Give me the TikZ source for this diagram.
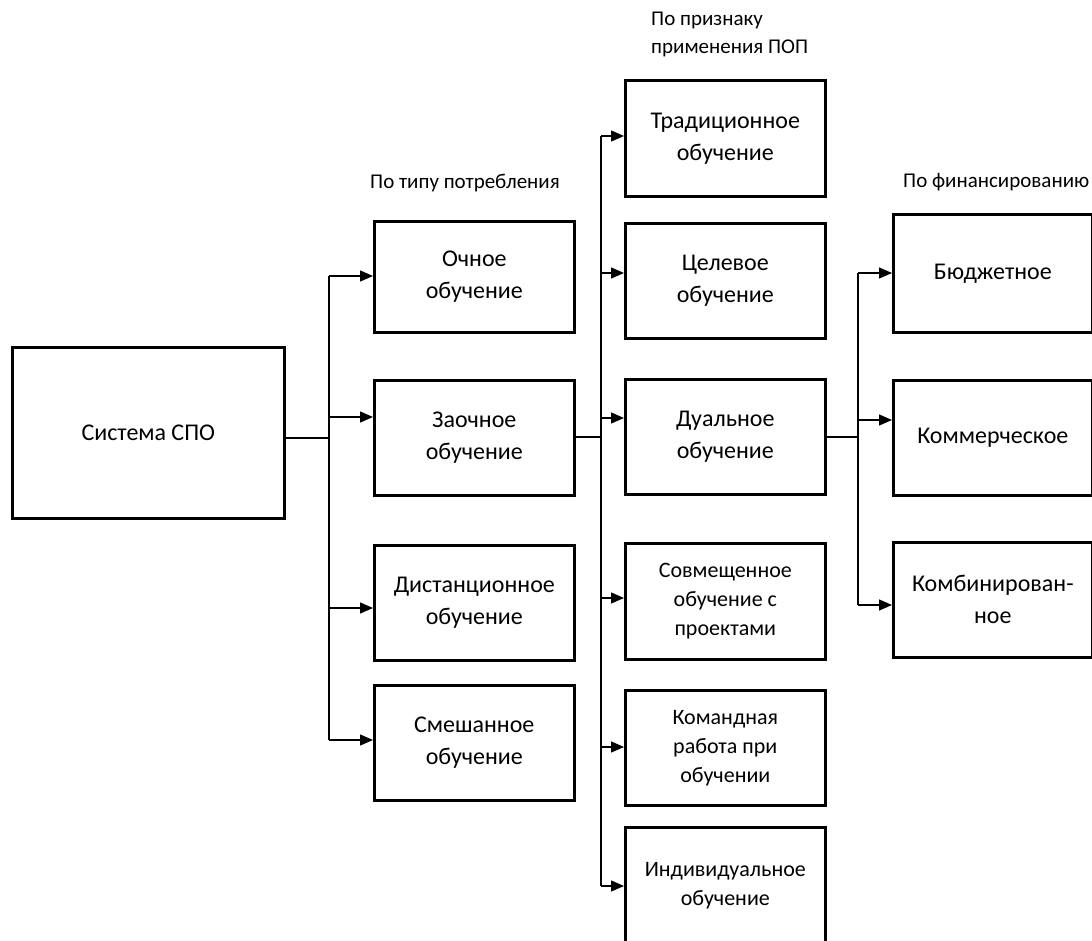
\documentclass[tikz,border=0pt]{standalone}
\usepackage{fontspec}
\setmainfont{Carlito}
\usetikzlibrary{arrows.meta}
\begin{document}
\begin{tikzpicture}[x=1pt,y=-1pt,
  box/.style={draw, line width=2.6pt, anchor=north west, align=center, inner sep=0pt,
    minimum width=200pt, font=\fontsize{24}{32}\selectfont},
  smallbox/.style={box, font=\fontsize{22}{29}\selectfont},
  lbl/.style={anchor=west, align=left, inner sep=0pt, font=\fontsize{21}{28}\selectfont},
  conn/.style={line width=1.3pt},
  arr/.style={line width=1.3pt, -{Triangle[length=13pt,width=11pt]}}]
\clip (0,0) rectangle (1092,941);
\fill[white] (0,0) rectangle (1092,941);

% root
\node[box, minimum width=272pt, minimum height=171pt] (sys) at (11,346) {Система СПО};

% column 1
\node[lbl] (l1) at (370,183) {По типу потребления};
\node[box, minimum height=111pt] (c11) at (373,220) {Очное\\обучение};
\node[box, minimum height=115pt] (c12) at (373,379) {Заочное\\обучение};
\node[box, minimum height=115pt] (c13) at (373,544) {Дистанционное\\обучение};
\node[box, minimum height=115pt] (c14) at (373,684) {Смешанное\\обучение};

% column 2
\node[lbl] (l2) at (651,34) {По признаку\\применения ПОП};
\node[box, minimum height=116pt] (c21) at (624,79) {Традиционное\\обучение};
\node[box, minimum height=115pt] (c22) at (624,222) {Целевое\\обучение};
\node[box, minimum height=115pt] (c23) at (624,378) {Дуальное\\обучение};
\node[smallbox, minimum height=116pt] (c24) at (624,542) {Совмещенное\\обучение с\\проектами};
\node[smallbox, minimum height=115pt] (c25) at (624,689) {Командная\\работа при\\обучении};
\node[smallbox, minimum height=116pt] (c26) at (624,826) {Индивидуальное\\обучение};

% column 3
\node[lbl] (l3) at (903,182) {По финансированию};
\node[box, minimum width=199pt, minimum height=118pt] (c31) at (892,213) {Бюджетное};
\node[box, minimum width=199pt, minimum height=115pt] (c32) at (892,379) {Коммерческое};
\node[box, minimum width=199pt, minimum height=115pt] (c33) at (892,541) {Комбинирован-\\ное};

% junctions
\coordinate (j1) at (329,438);
\coordinate (j1t) at (329,276);
\coordinate (j1b) at (329,740);
\coordinate (j2) at (601,437);
\coordinate (j2t) at (601,136);
\coordinate (j2b) at (601,886);
\coordinate (j3) at (858,437);
\coordinate (j3t) at (858,273);
\coordinate (j3b) at (858,605);

\draw[conn] (sys.east |- j1) -- (j1);
\draw[conn] (j1t) -- (j1b);
\draw[arr] (j1t) -- (c11.west |- j1t);
\draw[arr] (329,417) coordinate (a12) -- (c12.west |- a12);
\draw[arr] (329,608) coordinate (a13) -- (c13.west |- a13);
\draw[arr] (j1b) -- (c14.west |- j1b);

\draw[conn] (c12.east |- j2) -- (j2);
\draw[conn] (j2t) -- (j2b);
\draw[arr] (j2t) -- (c21.west |- j2t);
\draw[arr] (601,273) coordinate (a22) -- (c22.west |- a22);
\draw[arr] (601,418) coordinate (a23) -- (c23.west |- a23);
\draw[arr] (601,598) coordinate (a24) -- (c24.west |- a24);
\draw[arr] (601,747) coordinate (a25) -- (c25.west |- a25);
\draw[arr] (j2b) -- (c26.west |- j2b);

\draw[conn] (c23.east |- j3) -- (j3);
\draw[conn] (j3t) -- (j3b);
\draw[arr] (j3t) -- (c31.west |- j3t);
\draw[arr] (858,420) coordinate (a32) -- (c32.west |- a32);
\draw[arr] (j3b) -- (c33.west |- j3b);
\end{tikzpicture}
\end{document}
